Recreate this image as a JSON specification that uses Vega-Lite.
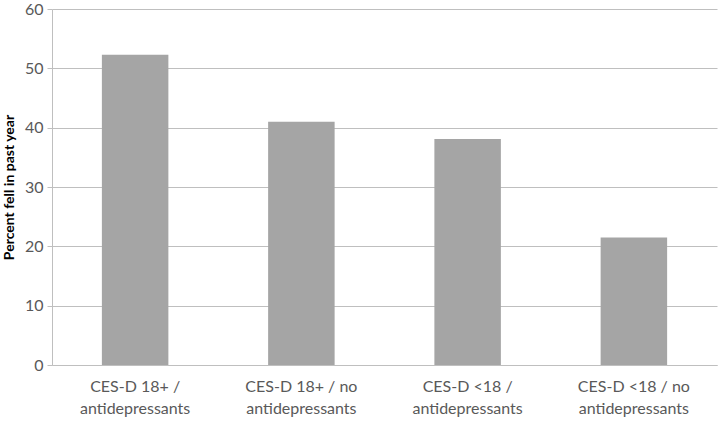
{
  "$schema": "https://vega.github.io/schema/vega-lite/v6.json",
  "autosize": "none",
  "padding": {"left": 52, "top": 9, "right": 3, "bottom": 58},
  "width": 665,
  "height": 356,
  "background": "white",
  "config": {"view": {"stroke": null}, "font": "Lato"},
  "data": {"values": [
    {"group": "CES-D 18+ / antidepressants", "percent": 52.3},
    {"group": "CES-D 18+ / no antidepressants", "percent": 41.0},
    {"group": "CES-D <18 / antidepressants", "percent": 38.1},
    {"group": "CES-D <18 / no antidepressants", "percent": 21.5}
  ]},
  "mark": {"type": "bar", "color": "#A5A5A5"},
  "encoding": {
    "x": {
      "field": "group", "type": "nominal", "sort": null,
      "scale": {"paddingInner": 0.6, "paddingOuter": 0.3},
      "axis": {
        "title": null, "labelAngle": 0, "ticks": false,
        "domainColor": "#BFBFBF", "labelColor": "#595959",
        "labelFontSize": 16, "labelPadding": 13, "labelLineHeight": 22,
        "labelExpr": "[replace(datum.label, ' antidepressants', ''), 'antidepressants']"
      }
    },
    "y": {
      "field": "percent", "type": "quantitative",
      "scale": {"domain": [0, 60]},
      "axis": {
        "title": "Percent fell in past year", "titleFontSize": 14, "titleFontWeight": "bold",
        "titleColor": "#000000", "titlePadding": 8,
        "values": [0, 10, 20, 30, 40, 50, 60],
        "grid": true, "gridColor": "#BFBFBF", "domainColor": "#BFBFBF",
        "tickColor": "#BFBFBF", "tickSize": 5,
        "labelColor": "#595959", "labelFontSize": 16, "labelPadding": 4
      }
    }
  }
}
